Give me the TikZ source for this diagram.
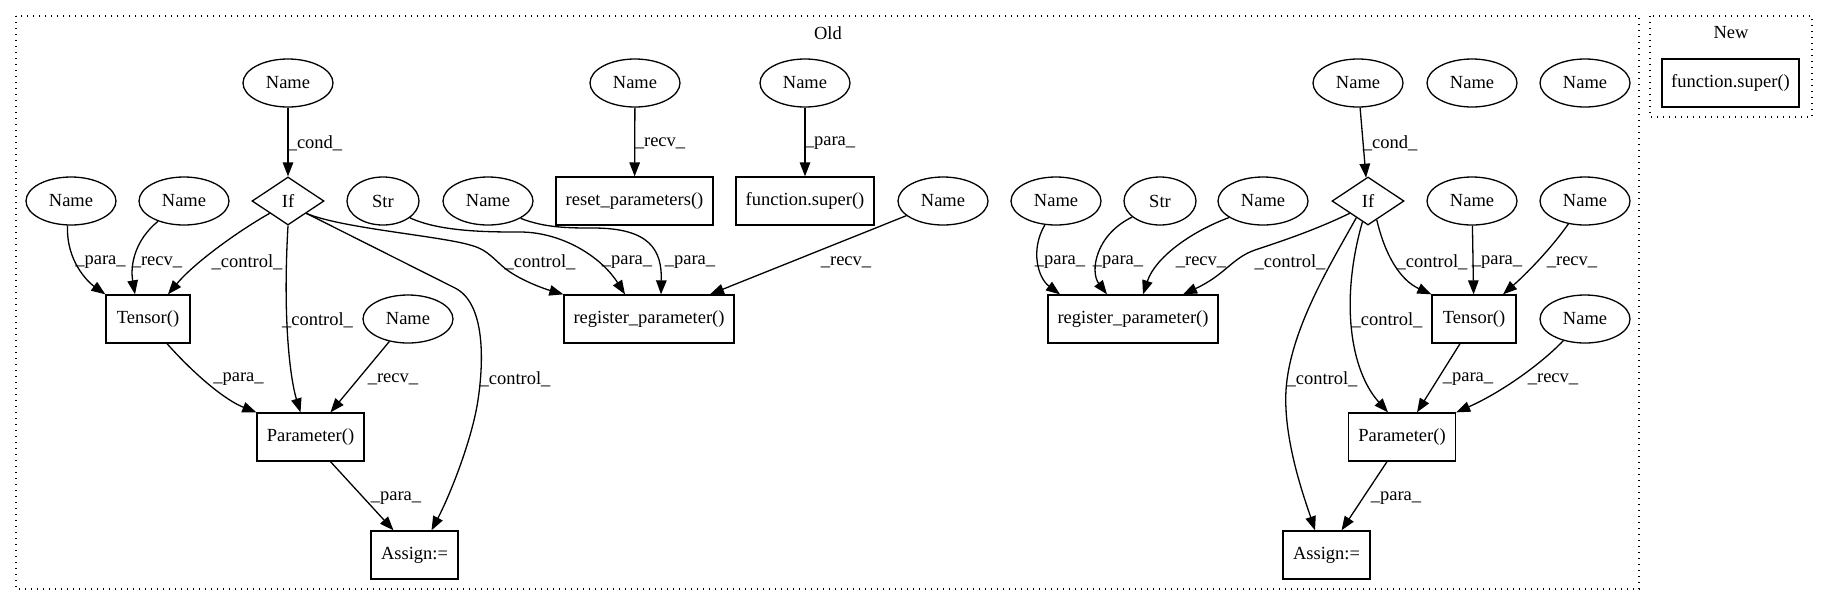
\documentclass[tikz,border=0pt]{standalone}
\usepackage{fontspec}
\setmainfont{Liberation Serif}
\usetikzlibrary{arrows.meta,shapes.geometric}
\tikzset{
  base/.style={draw, line width=1.3pt, font=\fontsize{18.5}{20}\selectfont, inner sep=0pt},
  nm/.style={base, ellipse, minimum width=90pt, minimum height=48pt},
  st/.style={base, ellipse, minimum width=72pt, minimum height=48pt},
  ifd/.style={base, diamond, minimum width=72pt, minimum height=48pt},
  rbox/.style={base, rectangle, minimum height=48pt},
  conn/.style={line width=1.3pt, -{Triangle[length=14pt,width=10.5pt]}},
  elab/.style={font=\fontsize{18.5}{20}\selectfont, inner sep=0pt},
  clus/.style={line width=1.3pt, dash pattern=on 1.3pt off 4.7pt}
}
\begin{document}
\begin{tikzpicture}[x=1pt,y=-1pt]
\fill[white] (0,0) rectangle (1827,606);
\useasboundingbox (0,0) rectangle (1827,606);
% clusters
\draw[clus] (16,16) rectangle (1639,589);
\node[elab] (oldlab) at (828,33) {Old};
\draw[clus] (1650,16) rectangle (1812,117);
\node[elab] (newlab) at (1731,33) {New};
\node[rbox, minimum width=137pt] (fsn) at (1730.5,83) {function.super()};
% left part nodes
\node[nm] (N1) at (288,83) {Name};
\node[ifd] (If1) at (288,201) {If};
\node[nm] (Na) at (71,201) {Name};
\node[nm] (Nb) at (184,201) {Name};
\node[st] (Str1) at (383,201) {Str};
\node[nm] (Nc) at (488,201) {Name};
\node[nm] (Ne) at (635,83) {Name};
\node[rbox, minimum width=157pt] (reset) at (634.5,201) {reset\_parameters()};
\node[nm] (Nf) at (805,83) {Name};
\node[rbox, minimum width=138pt] (fsuper) at (805,201) {function.super()};
\node[nm] (Ng) at (943,201) {Name};
\node[rbox, minimum width=84pt] (T1) at (148,319) {Tensor()};
\node[rbox, minimum width=170pt] (reg1) at (649,319) {register\_parameter()};
\node[nm] (Nd) at (408,319) {Name};
\node[rbox, minimum width=107pt] (P1) at (310.5,437) {Parameter()};
\node[rbox, minimum width=87pt] (A1) at (414.5,555) {Assign:=};
% right part nodes
\node[nm] (Nh) at (1358,83) {Name};
\node[nm] (Ni) at (1472,83) {Name};
\node[nm] (Nj) at (1585,83) {Name};
\node[nm] (Nk) at (1056,201) {Name};
\node[st] (Str2) at (1160,201) {Str};
\node[nm] (Nl) at (1263,201) {Name};
\node[ifd] (If2) at (1368,201) {If};
\node[nm] (Nm) at (1472,201) {Name};
\node[nm] (Nn) at (1585,201) {Name};
\node[rbox, minimum width=170pt] (reg2) at (1133,319) {register\_parameter()};
\node[rbox, minimum width=84pt] (T2) at (1474,319) {Tensor()};
\node[nm] (No) at (1585,319) {Name};
\node[rbox, minimum width=107pt] (P2) at (1402,437) {Parameter()};
\node[rbox, minimum width=87pt] (A2) at (1326.5,555) {Assign:=};
% left edges
\draw[conn] (N1) -- (If1);
\node[elab] (l1) at (315,143) {\_cond\_};
\draw[conn] (Na.262) .. controls (66,261) and (88,282) .. (T1.north west);
\node[elab] (l2) at (100.5,262) {\_para\_};
\draw[conn] (Nb.218) .. controls (135,240) and (130,265) .. ([xshift=-13pt]T1.north);
\node[elab] (l3) at (157,262) {\_recv\_};
\draw[conn] (If1.south west) .. controls (240,230) and (195,262) .. ([xshift=20pt]T1.north);
\node[elab] (l4) at (247,262) {\_control\_};
\draw[conn] (If1.south) .. controls (282,330) and (292,385) .. ([xshift=-10pt]P1.north);
\node[elab] (l5) at (317.5,320) {\_control\_};
\draw[conn] (If1.south east) -- (455,288) .. controls (485,303) and (484,360) .. (478,400) .. controls (472,440) and (450,495) .. ([xshift=17pt]A1.north);
\node[elab] (l6) at (515,379) {\_control\_};
\draw[conn] (Str1.-32) .. controls (440,232) and (490,232) .. (520,232) .. controls (560,232) and (600,255) .. ([xshift=-24pt]reg1.north);
\node[elab] (l7) at (627,262) {\_para\_};
\draw[conn] (Nc.-28) .. controls (545,228) and (570,228) .. (593,228) .. controls (650,228) and (662,250) .. ([xshift=12pt]reg1.north);
\node[elab] (l8) at (690,262) {\_para\_};
\draw[conn] (If1.south east) .. controls (340,228) and (440,236) .. (470,245) .. controls (490,250) and (495,262) .. (510,272) .. controls (525,282) and (545,289) .. (reg1.north west);
\node[elab] (l9) at (540,262) {\_control\_};
\draw[conn] (Ng) -- ([xshift=61pt]reg1.north);
\node[elab] (l10) at (846,262) {\_recv\_};
\draw[conn] (Ne) -- (reset);
\node[elab] (l11) at (660,143) {\_recv\_};
\draw[conn] (Nf) -- (fsuper);
\node[elab] (l12) at (830,143) {\_para\_};
\draw[conn] (Nd) -- ([xshift=20pt]P1.north);
\node[elab] (l13) at (393,379) {\_recv\_};
\draw[conn] ([xshift=19pt]T1.south) .. controls (195,375) and (225,400) .. (P1.north west);
\node[elab] (l14) at (238.5,379) {\_para\_};
\draw[conn] ([xshift=20pt]P1.south) -- ([xshift=-21pt]A1.north);
\node[elab] (l15) at (396,498) {\_para\_};
% right edges
\draw[conn] (Nh) -- (If2);
\node[elab] (r1) at (1390,143) {\_cond\_};
\draw[conn] (Nk.245) .. controls (1030,250) and (1038,278) .. ([xshift=-73pt]reg2.north);
\node[elab] (r2) at (1060,262) {\_para\_};
\draw[conn] (Str2.210) .. controls (1095,235) and (1090,272) .. ([xshift=-26pt]reg2.north);
\node[elab] (r3) at (1118,262) {\_para\_};
\draw[conn] (Nl.206) .. controls (1190,232) and (1155,258) .. ([xshift=10pt]reg2.north);
\node[elab] (r4) at (1201,262) {\_recv\_};
\draw[conn] (If2.south west) .. controls (1315,230) and (1285,240) .. (1255,250) .. controls (1232,258) and (1225,275) .. ([xshift=50pt]reg2.north);
\node[elab] (r5) at (1290,262) {\_control\_};
\draw[conn] (If2.-65) .. controls (1385,255) and (1400,280) .. (T2.north west);
\node[elab] (r6) at (1432,262) {\_control\_};
\draw[conn] (Nm) -- (T2);
\node[elab] (r7) at (1497,262) {\_para\_};
\draw[conn] (Nn.-126) .. controls (1550,250) and (1525,275) .. ([xshift=29pt]T2.north);
\node[elab] (r8) at (1572,262) {\_recv\_};
\draw[conn] (If2.-105) .. controls (1340,300) and (1350,370) .. ([xshift=-14pt]P2.north);
\node[elab] (r9) at (1387,320) {\_control\_};
\draw[conn] (If2.-125) .. controls (1330,265) and (1290,330) .. (1286,390) .. controls (1283,440) and (1305,500) .. ([xshift=-11.5pt]A2.north);
\node[elab] (r10) at (1322,379) {\_control\_};
\draw[conn] ([xshift=-14pt]T2.south) -- ([xshift=15pt]P2.north);
\node[elab] (r11) at (1468,379) {\_para\_};
\draw[conn] (No.-135) .. controls (1540,365) and (1500,393) .. (P2.north east);
\node[elab] (r12) at (1553,379) {\_recv\_};
\draw[conn] ([xshift=-15pt]P2.south) -- ([xshift=15pt]A2.north);
\node[elab] (r13) at (1396,498) {\_para\_};
\end{tikzpicture}
\end{document}
